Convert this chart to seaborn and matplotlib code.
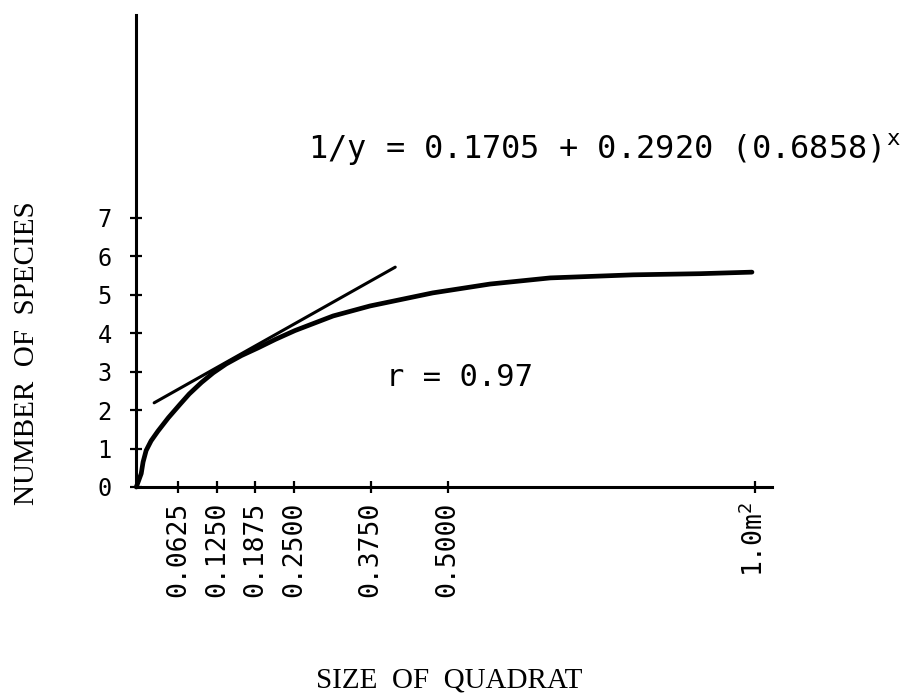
import seaborn as sns
import matplotlib.pyplot as plt

# species-area curve, values
quad_size = [-0.006, 0.002, 0.005, 0.010, 0.018, 0.029, 0.046, 0.065, 0.080, 0.100,
             0.119, 0.140, 0.165, 0.192, 0.220, 0.252, 0.314, 0.374, 0.476, 0.569,
             0.667, 0.802, 0.911, 0.995]
n_species = [0.0, 0.35, 0.65, 0.95, 1.20, 1.45, 1.80, 2.15, 2.42, 2.72,
             2.97, 3.20, 3.42, 3.62, 3.84, 4.07, 4.45, 4.71, 5.05, 5.28,
             5.44, 5.52, 5.55, 5.59]

# tangent line
tan_x = [0.023, 0.415]
tan_y = [2.19, 5.72]

xticks = [0.0625, 0.125, 0.1875, 0.25, 0.375, 0.5, 1.0]
xtick_labels = ["0.0625", "0.1250", "0.1875", "0.2500", "0.3750", "0.5000", "1.0m$^{2}$"]
yticks = [0, 1, 2, 3, 4, 5, 6, 7]

sns.set_style("ticks")
plt.rcParams['font.family'] = ['DejaVu Sans Mono', 'DejaVu Sans']
plt.rcParams['mathtext.fontset'] = 'custom'
plt.rcParams['mathtext.rm'] = 'DejaVu Sans Mono'
plt.rcParams['mathtext.it'] = 'DejaVu Sans Mono'
plt.rcParams['text.color'] = 'black'
plt.rcParams['xtick.color'] = 'black'
plt.rcParams['ytick.color'] = 'black'

fig = plt.figure(figsize=(9.09, 6.95), dpi=100)
ax = fig.add_axes([136/909, 208/695, 636/909, 472/695])

sns.lineplot(x=quad_size, y=n_species, color="black", linewidth=3.4, ax=ax)
sns.lineplot(x=tan_x, y=tan_y, color="black", linewidth=2.2, ax=ax)
for l in ax.lines:
    l.set_clip_on(False)
    l.set_solid_capstyle("round")

ax.set_xlim(-0.0065, 1.0276)
ax.set_ylim(0, 12.28)

sns.despine(ax=ax)
for s in ["left", "bottom"]:
    ax.spines[s].set_linewidth(2.2)
    ax.spines[s].set_color("black")

ax.set_xticks(xticks)
ax.set_xticklabels(xtick_labels, rotation=90, fontsize=19)
ax.set_yticks(yticks)
ax.set_yticklabels([str(v) for v in yticks], fontsize=17)
ax.tick_params(axis="both", direction="inout", length=9, width=1.6, color="black")
ax.tick_params(axis="x", pad=6)
ax.tick_params(axis="y", pad=13)

ax.text(0.273, 8.77, "1/y = 0.1705 + 0.2920 (0.6858)$^{x}$", fontsize=23,
        ha="left", va="center")
ax.text(0.40, 2.86, "r = 0.97", fontsize=22, ha="left", va="center")

fig.text(449/909, 1 - 680/695, "SIZE  OF  QUADRAT", family="Liberation Serif",
         fontsize=21, ha="center", va="center")
fig.text(27/909, 1 - 353/695, "NUMBER  OF  SPECIES", family="Liberation Serif",
         fontsize=21, ha="center", va="center", rotation=90)

fig.savefig("out.png", dpi=100)
